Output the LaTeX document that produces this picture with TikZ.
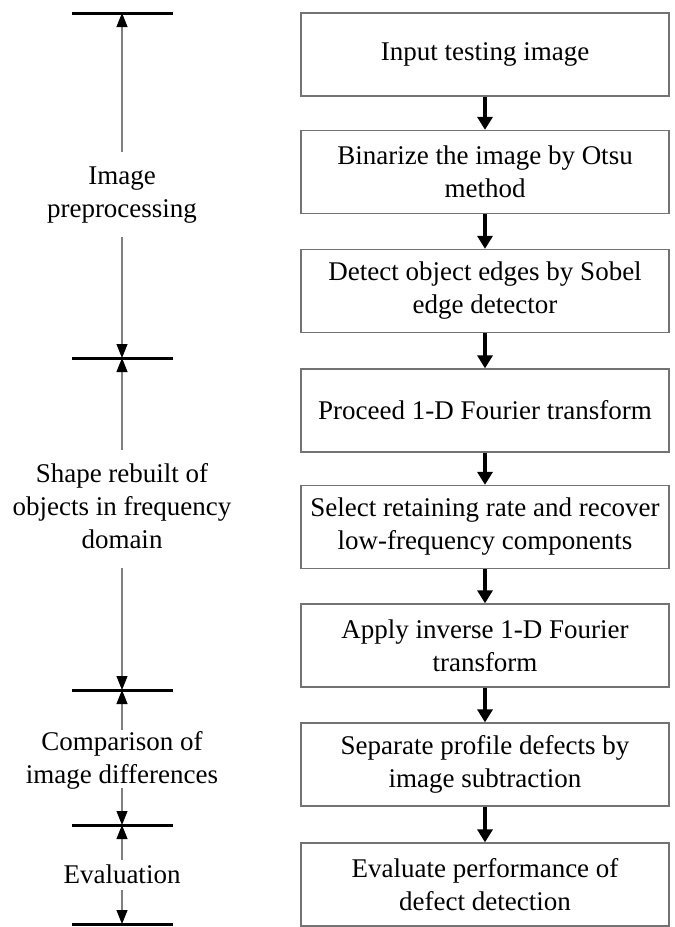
\documentclass[tikz,border=0pt]{standalone}
\usepackage{fontspec}
\setmainfont{Liberation Serif}
\usetikzlibrary{arrows.meta}
\begin{document}
\begin{tikzpicture}[x=1pt,y=-1pt,
  stepbox/.style={draw=black!55, line width=1.3pt, minimum width=368pt,
    minimum height=83pt, align=center, inner sep=0pt,
    font=\fontsize{27}{33}\selectfont},
  flow/.style={line width=3.5pt, -{Triangle[width=15pt,length=13pt]}},
  bar/.style={line width=3pt},
  span/.style={draw=black!50, line width=1.1pt,
    -{Triangle[width=11pt,length=14pt,color=black]}},
  phase/.style={align=center, inner sep=0pt,
    font=\fontsize{27}{33}\selectfont}]
\useasboundingbox (0,0) rectangle (675,927);

% processing steps
\node[stepbox] (b1) at (485,54.5)  {Input testing image};
\node[stepbox] (b2) at (485,172)   {Binarize the image by Otsu\\method};
\node[stepbox] (b3) at (485,291)   {Detect object edges by Sobel\\edge detector};
\node[stepbox] (b4) at (485,410.5) {Proceed 1-D Fourier transform};
\node[stepbox] (b5) at (485,527)   {Select retaining rate and recover\\low-frequency components};
\node[stepbox] (b6) at (485,645.5) {Apply inverse 1-D Fourier\\transform};
\node[stepbox] (b7) at (485,764.5) {Separate profile defects by\\image subtraction};
\node[stepbox] (b8) at (485,884.5) {Evaluate performance of\\defect detection};

\foreach \a/\b in {b1/b2,b2/b3,b3/b4,b4/b5,b5/b6,b6/b7,b7/b8}
  \draw[flow] (\a.south) -- (\b.north);

% phase boundaries
\coordinate (t0) at (122,13);
\coordinate (t1) at (122,358);
\coordinate (t2) at (122,690);
\coordinate (t3) at (122,825);
\coordinate (t4) at (122,924);
\foreach \t in {t0,t1,t2,t3,t4}
  \draw[bar] ([xshift=-50pt]\t) -- ([xshift=51pt]\t);

% phase labels
\node[phase] (p1) at (122,195.5) {Image\\preprocessing};
\node[phase] (p2) at (122,506.5) {Shape rebuilt of\\objects in frequency\\domain};
\node[phase] (p3) at (122,760)   {Comparison of\\image differences};
\node[phase] (p4) at (122,874)   {Evaluation};

% span arrows
\coordinate (s1a) at (122,152);
\coordinate (s1b) at (122,237);
\coordinate (s2a) at (122,450);
\coordinate (s2b) at (122,568);
\coordinate (s3a) at (122,730);
\coordinate (s3b) at (122,788);
\coordinate (s4a) at (122,860);
\coordinate (s4b) at (122,890);
\draw[span] (s1a) -- (t0);
\draw[span] (s1b) -- (t1);
\draw[span] (s2a) -- (t1);
\draw[span] (s2b) -- (t2);
\draw[span] (s3a) -- (t2);
\draw[span] (s3b) -- (t3);
\draw[span] (s4a) -- (t3);
\draw[span] (s4b) -- (t4);
\end{tikzpicture}
\end{document}
